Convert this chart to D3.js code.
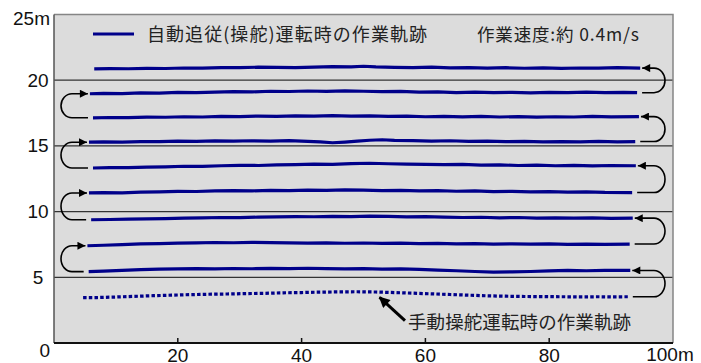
<!DOCTYPE html>
<html>
<head>
<meta charset="utf-8">
<script src="https://d3js.org/d3.v7.min.js"></script>
<style>
  body { margin: 0; background: #fff; }
  svg text { font-family: "Liberation Sans", Arial, sans-serif; fill: #111; }
  svg text.jp { font-family: "Noto Sans CJK JP", sans-serif; fill: #222; }
</style>
</head>
<body>
<div class="chart"></div>
<script>
// axis values
var xTicks = [20, 40, 60, 80];
var xLabels = ["0", "20", "40", "60", "80", "100m"];
var yGrid = [5, 10, 15, 20];
var yLabels = ["5", "10", "15", "20"];

// texts
var legendText = "自動追従(操舵)運転時の作業軌跡";
var speedText = "作業速度:約 0.4m/s";
var manualText = "手動操舵運転時の作業軌跡";

// auto-steering passes, top to bottom, [x m, y m]
var row1 = [[6.5,20.86],[9,20.88],[12,20.87],[15,20.90],[18,20.89],[21,20.93],[24,20.92],[27,20.96],[30,20.95],[33,20.99],[36,20.97],[39,20.95],[42,21.00],[45,21.03],[48,21.02],[50,21.06],[52,21.01],[55,20.98],[58,20.95],[61,20.99],[64,20.94],[67,20.96],[70,20.92],[73,20.95],[76,20.91],[79,20.94],[82,20.90],[85,20.93],[88,20.92],[91,20.95],[94.7,20.92]];
var row2 = [[5.8,18.97],[8,18.99],[11,18.98],[14,19.03],[17,19.02],[20,19.07],[23,19.05],[26,19.10],[29,19.13],[32,19.11],[35,19.16],[38,19.14],[41,19.18],[44,19.15],[47,19.19],[50,19.16],[53,19.13],[56,19.15],[59,19.09],[62,19.11],[65,19.06],[68,19.09],[71,19.05],[74,19.08],[77,19.04],[80,19.07],[83,19.05],[86,19.09],[89,19.06],[92,19.08],[94.2,19.05]];
var row3 = [[6.3,17.14],[9,17.16],[12,17.15],[15,17.19],[18,17.18],[21,17.22],[24,17.20],[27,17.24],[30,17.23],[33,17.27],[36,17.25],[39,17.29],[42,17.27],[45,17.30],[48,17.26],[51,17.28],[54,17.24],[57,17.27],[60,17.22],[63,17.25],[66,17.21],[69,17.24],[72,17.20],[75,17.23],[78,17.19],[81,17.22],[84,17.20],[87,17.24],[90,17.21],[94.5,17.23]];
var row4 = [[5.65,15.28],[8,15.30],[11,15.29],[14,15.33],[17,15.32],[20,15.36],[23,15.34],[26,15.38],[29,15.36],[32,15.39],[35,15.37],[38,15.40],[41,15.35],[43,15.30],[45,15.24],[47,15.29],[49,15.36],[51,15.43],[53,15.47],[55,15.42],[58,15.40],[61,15.37],[64,15.39],[67,15.34],[70,15.36],[73,15.32],[76,15.35],[79,15.31],[82,15.33],[85,15.30],[88,15.34],[91,15.31],[93.9,15.33]];
var row5 = [[6.3,13.32],[9,13.35],[12,13.34],[15,13.39],[18,13.41],[21,13.45],[24,13.44],[27,13.49],[30,13.52],[33,13.51],[36,13.56],[39,13.58],[42,13.62],[45,13.60],[48,13.65],[51,13.68],[54,13.64],[57,13.62],[60,13.60],[63,13.57],[66,13.59],[69,13.54],[72,13.55],[75,13.51],[78,13.53],[81,13.49],[84,13.52],[87,13.48],[90,13.51],[94,13.49]];
var row6 = [[5.65,11.42],[8,11.44],[11,11.43],[14,11.48],[17,11.50],[20,11.54],[23,11.53],[26,11.57],[29,11.60],[32,11.58],[35,11.62],[38,11.60],[41,11.64],[44,11.62],[47,11.65],[50,11.63],[53,11.60],[56,11.62],[59,11.57],[62,11.59],[65,11.55],[68,11.57],[71,11.52],[74,11.54],[77,11.50],[80,11.52],[83,11.48],[86,11.50],[89,11.46],[93.4,11.45]];
var row7 = [[6,9.38],[9,9.40],[12,9.42],[15,9.45],[18,9.47],[21,9.50],[24,9.52],[27,9.55],[30,9.54],[33,9.58],[36,9.60],[39,9.62],[42,9.61],[45,9.64],[48,9.62],[51,9.65],[54,9.63],[57,9.60],[60,9.62],[63,9.58],[66,9.55],[69,9.57],[72,9.53],[75,9.55],[78,9.51],[81,9.53],[84,9.50],[87,9.52],[90,9.48],[93.5,9.50]];
var row8 = [[5.4,7.40],[8,7.44],[11,7.49],[14,7.55],[17,7.57],[20,7.60],[23,7.62],[26,7.65],[29,7.63],[32,7.66],[35,7.64],[38,7.62],[41,7.60],[44,7.62],[47,7.59],[50,7.61],[53,7.58],[56,7.60],[59,7.56],[62,7.58],[65,7.55],[68,7.57],[71,7.53],[74,7.55],[77,7.52],[80,7.54],[83,7.50],[86,7.53],[89,7.51],[93,7.53]];
var row9 = [[5.6,5.43],[8,5.47],[11,5.52],[14,5.58],[17,5.62],[20,5.64],[23,5.66],[26,5.64],[29,5.67],[32,5.65],[35,5.68],[38,5.66],[41,5.69],[44,5.66],[47,5.64],[50,5.66],[53,5.62],[56,5.64],[59,5.60],[62,5.55],[65,5.50],[68,5.44],[71,5.40],[74,5.42],[77,5.44],[80,5.49],[83,5.52],[86,5.50],[89,5.53],[93.1,5.52]];

// manual steering pass (dotted)
var manualRow = [[4.7,3.45],[7,3.46],[10,3.50],[13,3.55],[16,3.60],[19,3.64],[22,3.68],[25,3.71],[28,3.73],[31,3.76],[34,3.78],[37,3.82],[40,3.84],[43,3.87],[46,3.89],[49,3.90],[52,3.88],[55,3.84],[58,3.79],[61,3.74],[64,3.69],[67,3.64],[70,3.59],[73,3.56],[76,3.54],[79,3.53],[82,3.52],[85,3.51],[88,3.52],[90,3.51],[92.7,3.52]];

var autoRows = [row1, row2, row3, row4, row5, row6, row7, row8, row9];
var allRows = autoRows.concat([manualRow]);

// U-turns: [from row, to row] (index in allRows)
var turnsRight = [[9, 8], [7, 6], [5, 4], [3, 2], [1, 0]];
var turnsLeft = [[8, 7], [6, 5], [4, 3], [2, 1]];

// where the manual-track arrow points [x m, y m]
var manualTip = [52.6, 3.48];
var manualTail = [56.7, 1.7];

window.onload = function()
{
  var width = 701, height = 363;
  var navy = "#00008a";

  var svg = d3.select(".chart")
              .append("svg")
              .attr("width", width)
              .attr("height", height);

  var x = d3.scaleLinear().domain([0, 100]).range([54, 673]);
  var y = d3.scaleLinear().domain([0, 25]).range([343, 14.5]);

  var defs = svg.append("defs");
  defs.append("marker")
      .attr("id", "turnHead")
      .attr("viewBox", "0 0 10 10")
      .attr("refX", 10).attr("refY", 5)
      .attr("markerWidth", 11).attr("markerHeight", 8)
      .attr("markerUnits", "userSpaceOnUse")
      .attr("orient", "auto")
      .append("path").attr("d", "M0,0L10,5L0,10z").attr("fill", "#000");
  defs.append("marker")
      .attr("id", "bigHead")
      .attr("viewBox", "0 0 10 10")
      .attr("refX", 9).attr("refY", 5)
      .attr("markerWidth", 13).attr("markerHeight", 11)
      .attr("markerUnits", "userSpaceOnUse")
      .attr("orient", "auto")
      .append("path").attr("d", "M0,0L10,5L0,10z").attr("fill", "#000");

  // plot background
  svg.append("rect")
     .attr("x", x(0)).attr("y", y(25))
     .attr("width", x(100) - x(0)).attr("height", y(0) - y(25))
     .attr("fill", "#dcdcdc");

  // grid lines
  svg.selectAll(".grid")
     .data(yGrid)
     .enter()
     .append("line")
     .attr("x1", x(0)).attr("x2", x(100))
     .attr("y1", function(d) { return y(d); })
     .attr("y2", function(d) { return y(d); })
     .attr("stroke", "#333")
     .attr("stroke-width", 1.2);

  // frame: top & right gray, left & bottom darker
  svg.append("path")
     .attr("d", "M" + x(0) + "," + y(25) + "H" + x(100) + "V" + y(0))
     .attr("fill", "none").attr("stroke", "#858585").attr("stroke-width", 1.5);
  svg.append("line")
     .attr("x1", x(0)).attr("x2", x(0)).attr("y1", y(25)).attr("y2", y(0))
     .attr("stroke", "#555").attr("stroke-width", 1.5);
  svg.append("line")
     .attr("x1", x(0)).attr("x2", x(100)).attr("y1", y(0)).attr("y2", y(0))
     .attr("stroke", "#111").attr("stroke-width", 2);

  // x ticks (inward)
  svg.selectAll(".xtick")
     .data(xTicks)
     .enter()
     .append("line")
     .attr("x1", function(d) { return x(d); })
     .attr("x2", function(d) { return x(d); })
     .attr("y1", y(0)).attr("y2", y(0) - 5)
     .attr("stroke", "#111").attr("stroke-width", 1.5);

  // x labels
  var xPos = [0].concat(xTicks).concat([100]);
  svg.selectAll(".xlab")
     .data(xLabels)
     .enter()
     .append("text")
     .attr("x", function(d, i) { return i === 0 ? x(0) - 4 : x(xPos[i]) - (i === 5 ? 3 : 0); })
     .attr("y", function(d, i) { return i === 0 ? 357 : (i === 5 ? 361 : 362); })
     .attr("text-anchor", function(d, i) { return i === 0 ? "end" : "middle"; })
     .style("font-size", "19px")
     .text(function(d) { return d; });

  // y labels
  svg.selectAll(".ylab")
     .data(yLabels)
     .enter()
     .append("text")
     .attr("x", 38)
     .attr("y", function(d, i) { return y(yGrid[i]) + 6.5; })
     .attr("text-anchor", "middle")
     .style("font-size", "19px")
     .text(function(d) { return d; });
  svg.append("text")
     .attr("x", 50).attr("y", y(25) + 10.5)
     .attr("text-anchor", "end")
     .style("font-size", "19px")
     .text("25m");

  // tracks
  var line = d3.line()
               .x(function(d) { return x(d[0]); })
               .y(function(d) { return y(d[1]); });

  svg.selectAll(".track")
     .data(autoRows)
     .enter()
     .append("path")
     .attr("d", line)
     .attr("fill", "none")
     .attr("stroke", navy)
     .attr("stroke-width", 3.2)
     .attr("stroke-linejoin", "round");

  svg.append("path")
     .attr("d", line(manualRow))
     .attr("fill", "none")
     .attr("stroke", navy)
     .attr("stroke-width", 3.2)
     .attr("stroke-dasharray", "3.5,2.2");

  // U-turn arrows
  function turnPath(t, side) {
    var a = allRows[t[0]], b = allRows[t[1]];
    var p0, p1, rx, dir;
    if (side === "L") {
      p0 = a[0]; p1 = b[0]; dir = -1;
    } else {
      p0 = a[a.length - 1]; p1 = b[b.length - 1]; dir = 1;
    }
    var tailX = x(p0[0]) + dir * 5;
    var tipX = x(p1[0]) + dir * 2;
    var cx = side === "L" ? x(0) + 18 : x(100) - 19;
    rx = 11;
    var yl = y(p0[1]), yu = y(p1[1]);
    var ry = (yl - yu) / 2;
    return "M" + tailX + "," + yl + "H" + cx +
           "A" + rx + "," + ry + " 0 0 " + (side === "L" ? 1 : 0) + " " + cx + "," + yu +
           "H" + tipX;
  }

  svg.selectAll(".turnL")
     .data(turnsLeft)
     .enter()
     .append("path")
     .attr("d", function(d) { return turnPath(d, "L"); })
     .attr("fill", "none").attr("stroke", "#000").attr("stroke-width", 1.6)
     .attr("marker-end", "url(#turnHead)");
  svg.selectAll(".turnR")
     .data(turnsRight)
     .enter()
     .append("path")
     .attr("d", function(d) { return turnPath(d, "R"); })
     .attr("fill", "none").attr("stroke", "#000").attr("stroke-width", 1.6)
     .attr("marker-end", "url(#turnHead)");

  // legend
  svg.append("line")
     .attr("x1", 93).attr("x2", 134).attr("y1", 34).attr("y2", 34)
     .attr("stroke", navy).attr("stroke-width", 3);
  svg.append("text")
     .attr("class", "jp")
     .attr("x", 147).attr("y", 40.5)
     .attr("textLength", 280).attr("lengthAdjust", "spacing")
     .style("font-size", "18px")
     .text(legendText);
  svg.append("text")
     .attr("class", "jp")
     .attr("x", 477).attr("y", 40.5)
     .attr("textLength", 162).attr("lengthAdjust", "spacing")
     .style("font-size", "17.5px")
     .text(speedText);

  // manual track annotation
  svg.append("line")
     .attr("x1", x(manualTail[0])).attr("y1", y(manualTail[1]))
     .attr("x2", x(manualTip[0])).attr("y2", y(manualTip[1]))
     .attr("stroke", "#000").attr("stroke-width", 3)
     .attr("marker-end", "url(#bigHead)");
  svg.append("text")
     .attr("class", "jp")
     .attr("x", 408).attr("y", 329)
     .attr("textLength", 223).attr("lengthAdjust", "spacing")
     .style("font-size", "18.5px")
     .text(manualText);
};
</script>
</body>
</html>
